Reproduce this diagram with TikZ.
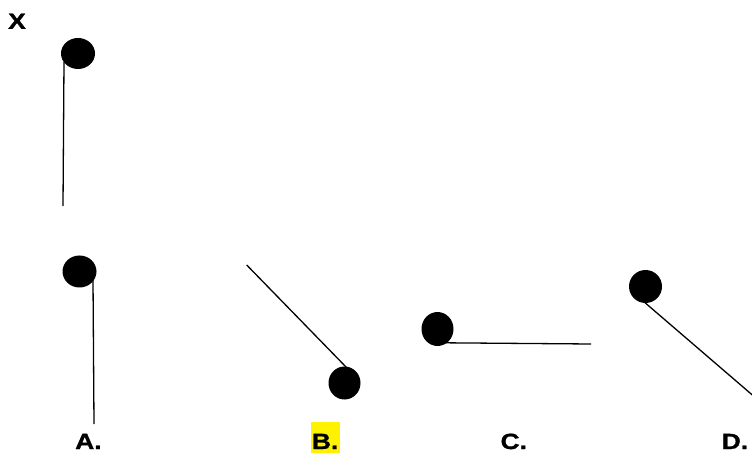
\documentclass[tikz,border=0pt]{standalone}
\usepackage{fontspec}
\setmainfont{Liberation Sans}[FakeStretch=1.2, BoldFeatures={FakeBold=1.2}]
\usetikzlibrary{shapes.geometric}
\tikzset{
  ball/.style={ellipse, fill=black, draw=none, inner sep=0pt},
  rod/.style={line width=1.3pt, black},
  lbl/.style={anchor=base west, inner sep=0pt, font=\fontsize{22}{26}\selectfont\bfseries}
}
\begin{document}
\begin{tikzpicture}[x=1pt, y=-1pt]
\useasboundingbox (0,0) rectangle (752,454);
\clip (0,0) rectangle (752,454);
% X
\coordinate (xt) at (64,62);
\coordinate (xb) at (63,206);
\draw[rod] (xt) -- (xb);
\node[ball, minimum width=34pt, minimum height=31pt] (xball) at (78,53.5) {};
\node[lbl] (xl) at (8,28.8) {X};
% A
\coordinate (at) at (93,279);
\coordinate (ab) at (94,424);
\draw[rod] (at) -- (ab);
\node[ball, minimum width=34pt, minimum height=32pt] (aball) at (79.5,271.5) {};
\node[lbl] (al) at (75,449) {A.};
% B
\coordinate (bt) at (246.7,265);
\coordinate (bb) at (347,368);
\draw[rod] (bt) -- (bb);
\node[ball, minimum width=32pt, minimum height=33pt] (bball) at (344.5,383) {};
\node[lbl, fill=yellow, inner xsep=1.2pt, text height=27.3pt, text depth=3.7pt] (bl) at (310.5,449) {B.};
% C
\coordinate (cl0) at (444,342.8);
\coordinate (cr) at (591,344);
\draw[rod] (cl0) -- (cr);
\node[ball, minimum width=32pt, minimum height=34pt] (cball) at (437.5,329) {};
\node[lbl] (cl) at (500.4,449) {C.};
% D
\coordinate (dt) at (645,302.7);
\coordinate (db) at (762,403.3);
\draw[rod] (dt) -- (db);
\node[ball, minimum width=33pt, minimum height=33pt] (dball) at (645.5,286.5) {};
\node[lbl] (dl) at (721.5,449) {D.};
\end{tikzpicture}
\end{document}
